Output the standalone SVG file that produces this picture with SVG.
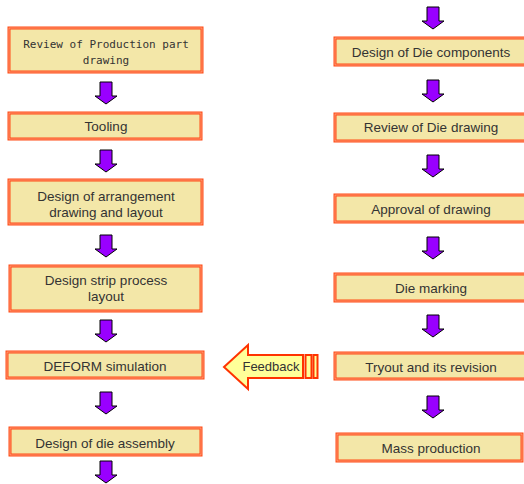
<svg xmlns="http://www.w3.org/2000/svg" xmlns:xlink="http://www.w3.org/1999/xlink" width="524" height="484" viewBox="0 0 524 484">
<style>
.box{fill:#F3E7A8;stroke:#FF4A14;stroke-width:3}
.bev{fill:none;stroke:#FFAE90;stroke-width:0.8}
.t{font-family:"Liberation Sans",Arial,sans-serif;font-size:13.5px;fill:#333;text-anchor:middle}
.m{font-family:"DejaVu Sans Mono","Liberation Mono",monospace;font-size:11px;fill:#333;text-anchor:middle}
.arr{fill:#9900FF;stroke:#000;stroke-width:1}
.fb{fill:#FFFF99;stroke:#FF3300;stroke-width:2}
</style>
<defs>
<path id="da" class="arr" d="M-6,0 H6 V14 H11 L0,22 L-11,14 H-6 Z"/>
</defs>
<rect width="524" height="484" fill="#fff"/>
<g id="connectors">
<use xlink:href="#da" x="106" y="82"/>
<use xlink:href="#da" x="106" y="150"/>
<use xlink:href="#da" x="106" y="235"/>
<use xlink:href="#da" x="106" y="320"/>
<use xlink:href="#da" x="106" y="392"/>
<use xlink:href="#da" x="106" y="461"/>
<use xlink:href="#da" x="433" y="7"/>
<use xlink:href="#da" x="433" y="80"/>
<use xlink:href="#da" x="433" y="155"/>
<use xlink:href="#da" x="433" y="237"/>
<use xlink:href="#da" x="433" y="315"/>
<use xlink:href="#da" x="433" y="396"/>
<g id="feedback">
<path class="fb" d="M224,367 L248,345 V355 H303 V378 H248 V389 Z"/>
<rect class="fb" x="305.5" y="355" width="6" height="23"/>
<rect class="fb" x="313.5" y="355" width="4" height="23"/>
<text class="t" x="271" y="371" style="font-size:13px">Feedback</text>
</g>
</g>
<g id="n1"><rect class="box" x="9" y="28" width="193" height="44"/><rect class="bev" x="9" y="28" width="193" height="44"/>
<text class="m" x="106" y="48">Review of Production part</text><text class="m" x="106" y="64">drawing</text></g>
<g id="n2"><rect class="box" x="9" y="113" width="192" height="26"/><rect class="bev" x="9" y="113" width="192" height="26"/>
<text class="t" x="106" y="131">Tooling</text></g>
<g id="n3"><rect class="box" x="9" y="180" width="193" height="44"/><rect class="bev" x="9" y="180" width="193" height="44"/>
<text class="t" x="106" y="201">Design of arrangement</text><text class="t" x="106" y="217">drawing and layout</text></g>
<g id="n4"><rect class="box" x="10" y="266" width="191" height="45"/><rect class="bev" x="10" y="266" width="191" height="45"/>
<text class="t" x="106" y="285">Design strip process</text><text class="t" x="106" y="301">layout</text></g>
<g id="n5"><rect class="box" x="7" y="352" width="196" height="26"/><rect class="bev" x="7" y="352" width="196" height="26"/>
<text class="t" x="105" y="371">DEFORM simulation</text></g>
<g id="n6"><rect class="box" x="10" y="428" width="191" height="27"/><rect class="bev" x="10" y="428" width="191" height="27"/>
<text class="t" x="105" y="448">Design of die assembly</text></g>
<g id="r1"><rect class="box" x="335" y="38" width="200" height="27"/><rect class="bev" x="335" y="38" width="200" height="27"/>
<text class="t" x="431" y="57">Design of Die components</text></g>
<g id="r2"><rect class="box" x="335" y="114" width="200" height="27"/><rect class="bev" x="335" y="114" width="200" height="27"/>
<text class="t" x="431" y="132">Review of Die drawing</text></g>
<g id="r3"><rect class="box" x="335" y="195" width="200" height="27"/><rect class="bev" x="335" y="195" width="200" height="27"/>
<text class="t" x="431" y="214">Approval of drawing</text></g>
<g id="r4"><rect class="box" x="335" y="274" width="200" height="27"/><rect class="bev" x="335" y="274" width="200" height="27"/>
<text class="t" x="431" y="293">Die marking</text></g>
<g id="r5"><rect class="box" x="335" y="353" width="200" height="26"/><rect class="bev" x="335" y="353" width="200" height="26"/>
<text class="t" x="431" y="372">Tryout and its revision</text></g>
<g id="r6"><rect class="box" x="337" y="434" width="185" height="27"/><rect class="bev" x="337" y="434" width="185" height="27"/>
<text class="t" x="431" y="453">Mass production</text></g>
</svg>
